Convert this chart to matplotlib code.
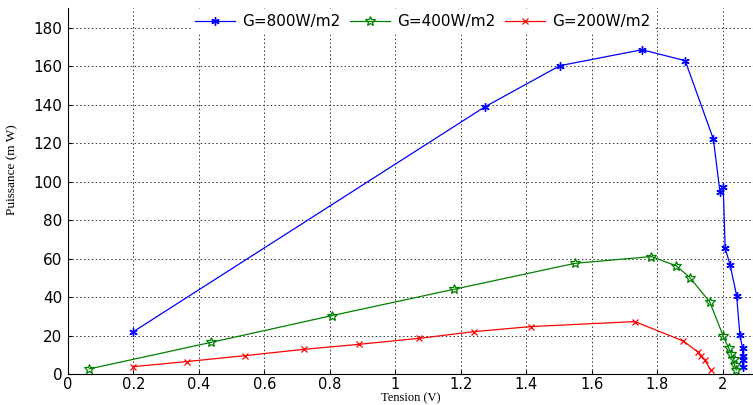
import matplotlib
matplotlib.use("Agg")
import matplotlib.pyplot as plt

# G = 800 W/m2
v_800 = [0.20, 1.273, 1.502, 1.753, 1.885, 1.971, 1.991, 2.001, 2.007, 2.022,
         2.042, 2.052, 2.060, 2.060, 2.060, 2.060]
p_800 = [22.2, 139.0, 160.4, 168.7, 163.0, 122.2, 94.9, 97.6, 65.5, 56.9,
         40.9, 20.3, 13.8, 9.5, 7.5, 3.8]

# G = 400 W/m2
v_400 = [0.065, 0.437, 0.806, 1.179, 1.549, 1.782, 1.858, 1.899, 1.960, 2.001,
         2.018, 2.026, 2.033, 2.036, 2.041]
p_400 = [2.8, 16.6, 30.5, 44.2, 57.7, 61.2, 56.3, 50.3, 37.6, 19.9,
         13.5, 10.4, 7.8, 4.8, 2.2]

# G = 200 W/m2
v_200 = [0.20, 0.362, 0.541, 0.722, 0.890, 1.073, 1.241, 1.413, 1.731, 1.879,
         1.925, 1.932, 1.945, 1.963]
p_200 = [4.0, 6.6, 9.7, 13.0, 15.6, 18.7, 22.2, 24.8, 27.4, 17.3,
         11.4, 9.5, 7.4, 2.2]

x_ticks = [0, 0.2, 0.4, 0.6, 0.8, 1, 1.2, 1.4, 1.6, 1.8, 2]
x_tick_labels = ["0", "0.2", "0.4", "0.6", "0.8", "1", "1.2", "1.4", "1.6", "1.8", "2"]
y_ticks = [0, 20, 40, 60, 80, 100, 120, 140, 160, 180]

plt.rcParams["font.family"] = "DejaVu Sans"

fig = plt.figure(figsize=(7.53, 4.05), dpi=100)
ax = fig.add_axes([0.0903, 0.0758, 0.9097, 0.9045])

ax.plot(v_800, p_800, color="blue", linewidth=0.9, marker=(6, 2, 0),
        markersize=6, markeredgewidth=1.0, label="G=800W/m2", zorder=3)
ax.plot(v_400, p_400, color="green", linewidth=0.9, marker="*",
        markersize=7, markerfacecolor="none", markeredgewidth=0.9,
        label="G=400W/m2", zorder=3)
ax.plot(v_200, p_200, color="red", linewidth=0.9, marker="x",
        markersize=4, markeredgewidth=0.9, label="G=200W/m2", zorder=3)

ax.set_xlim(0, 2.092)
ax.set_ylim(0, 190.4)
ax.set_xticks(x_ticks)
ax.set_xticklabels(x_tick_labels)
ax.set_yticks(y_ticks)

ax.grid(True, color="0.2", linestyle=(0, (1.5, 2.5)), linewidth=0.7)
ax.spines["top"].set_visible(False)
ax.spines["right"].set_visible(False)
ax.tick_params(direction="in", length=3, labelsize=11)
ax.tick_params(axis="x", pad=2, labelsize=10.5)
ax.tick_params(axis="y", pad=4)

ax.set_xlabel("Tension (V)", family="Liberation Serif", fontsize=9)
ax.xaxis.set_label_coords(0.5, -0.049, transform=ax.transAxes)
ax.xaxis.label.set_va("top")
ax.set_ylabel("Puissance (m W)", family="Liberation Serif", fontsize=9.5)
ax.yaxis.set_label_coords(-0.072, 0.56)

leg = ax.legend(loc="center", bbox_to_anchor=(0.518, 0.962), ncol=3,
                frameon=True, fancybox=False, edgecolor="none",
                facecolor="white", framealpha=1, fontsize=11,
                handlelength=2.6, handletextpad=0.5, columnspacing=0.6,
                borderpad=0.25, borderaxespad=0)

fig.savefig("out.png", dpi=100)
